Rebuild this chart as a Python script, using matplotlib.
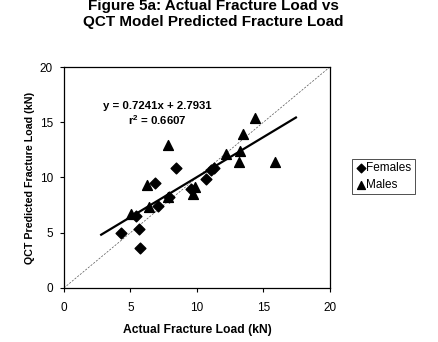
import matplotlib
matplotlib.use("Agg")
import matplotlib.pyplot as plt
import numpy as np

plt.rcParams['font.family'] = ['Liberation Sans', 'DejaVu Sans']

# Actual vs predicted fracture load (kN)
female_actual = [4.3, 5.45, 5.67, 5.75, 6.83, 7.05, 7.9, 8.4, 9.59, 10.66, 11.07, 11.3]
female_pred = [4.95, 6.55, 5.37, 3.6, 9.5, 7.45, 8.26, 10.86, 9.0, 9.9, 10.7, 10.83]
male_actual = [5.08, 6.25, 6.4, 7.8, 7.85, 9.74, 9.87, 12.2, 13.2, 13.27, 13.47, 14.4, 15.9]
male_pred = [6.67, 9.3, 7.36, 12.9, 8.2, 8.5, 9.1, 12.15, 11.37, 12.4, 13.9, 15.4, 11.4]

slope, intercept, r2 = 0.7241, 2.7931, 0.6607
fit_range = [2.8, 17.45]
ticks = [0, 5, 10, 15, 20]

fig = plt.figure(figsize=(4.38, 3.42), dpi=100)
ax = fig.add_axes([0.146, 0.158, 0.607, 0.646])

ax.plot([0, 20], [0, 20], color='#555555', lw=0.5, ls=(0, (3, 2)), zorder=1)
fx = np.array(fit_range)
ax.plot(fx, slope * fx + intercept, color='black', lw=1.6, zorder=2)

ax.scatter(female_actual, female_pred, marker='D', s=30, color='black', label='Females', zorder=3)
ax.scatter(male_actual, male_pred, marker='^', s=50, color='black', label='Males', zorder=3)

ax.set_xlim(0, 20)
ax.set_ylim(0, 20)
ax.set_xticks(ticks)
ax.set_yticks(ticks)
ax.tick_params(labelsize=8.5, length=3, width=0.8, direction='out')
ax.tick_params(axis='x', pad=7)
ax.tick_params(axis='y', pad=5)
for s in ax.spines.values():
    s.set_linewidth(0.9)

ax.set_xlabel('Actual Fracture Load (kN)', fontsize=8.7, fontweight='bold', labelpad=7)
ax.set_ylabel('QCT Predicted Fracture Load (kN)', fontsize=7.7, fontweight='bold', labelpad=3)

ax.text(7.03, 15.75, f'y = {slope}x + {intercept}\n$\\mathregular{{r^2}}$ = {r2}',
        fontsize=8.2, fontweight='bold', ha='center', va='center', linespacing=1.25)

fig.text(0.487, 0.96, 'Figure 5a: Actual Fracture Load vs\nQCT Model Predicted Fracture Load',
         fontsize=11, fontweight='bold', ha='center', va='center', linespacing=1.15)

leg = fig.legend(loc='center left', bbox_to_anchor=(0.803, 0.484), fontsize=8.5,
                 frameon=True, fancybox=False, edgecolor='black', handletextpad=0.05,
                 handlelength=0.9, borderpad=0.3, labelspacing=0.4, borderaxespad=0,
                 markerscale=0.8)
leg.get_frame().set_linewidth(0.6)

fig.savefig('out.png', dpi=100)
